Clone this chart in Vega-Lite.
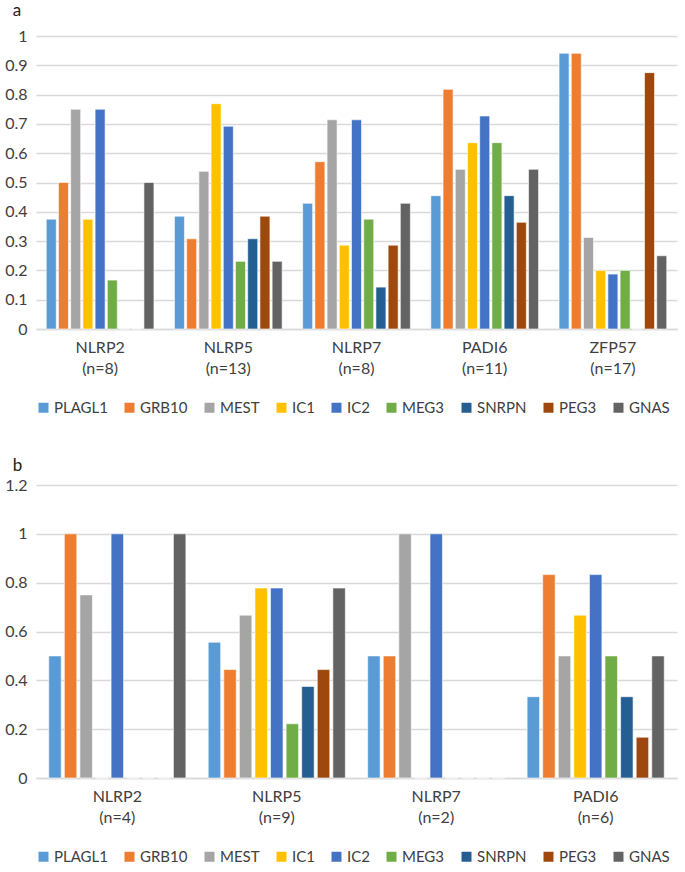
{
  "$schema": "https://vega.github.io/schema/vega-lite/v6.json",
  "background": "white",
  "padding": {"left": 4, "top": 2, "right": 5, "bottom": 5},
  "config": {
    "font": "Lato",
    "view": {"stroke": null},
    "axis": {"labelFont": "Lato", "labelFontSize": 16, "labelColor": "#404040", "titleFont": "Lato"},
    "legend": {"labelFont": "Lato", "labelFontSize": 15, "labelColor": "#404040"},
    "title": {"font": "Lato", "fontSize": 17, "fontWeight": "normal", "color": "#222222"}
  },
  "datasets": {
    "a": [
      {"g": "NLRP2 (n=8)", "s": "PLAGL1", "v": 0.375},
      {"g": "NLRP2 (n=8)", "s": "GRB10", "v": 0.5},
      {"g": "NLRP2 (n=8)", "s": "MEST", "v": 0.75},
      {"g": "NLRP2 (n=8)", "s": "IC1", "v": 0.375},
      {"g": "NLRP2 (n=8)", "s": "IC2", "v": 0.75},
      {"g": "NLRP2 (n=8)", "s": "MEG3", "v": 0.167},
      {"g": "NLRP2 (n=8)", "s": "SNRPN", "v": 0},
      {"g": "NLRP2 (n=8)", "s": "PEG3", "v": 0},
      {"g": "NLRP2 (n=8)", "s": "GNAS", "v": 0.5},
      {"g": "NLRP5 (n=13)", "s": "PLAGL1", "v": 0.385},
      {"g": "NLRP5 (n=13)", "s": "GRB10", "v": 0.308},
      {"g": "NLRP5 (n=13)", "s": "MEST", "v": 0.538},
      {"g": "NLRP5 (n=13)", "s": "IC1", "v": 0.769},
      {"g": "NLRP5 (n=13)", "s": "IC2", "v": 0.692},
      {"g": "NLRP5 (n=13)", "s": "MEG3", "v": 0.231},
      {"g": "NLRP5 (n=13)", "s": "SNRPN", "v": 0.308},
      {"g": "NLRP5 (n=13)", "s": "PEG3", "v": 0.385},
      {"g": "NLRP5 (n=13)", "s": "GNAS", "v": 0.231},
      {"g": "NLRP7 (n=8)", "s": "PLAGL1", "v": 0.429},
      {"g": "NLRP7 (n=8)", "s": "GRB10", "v": 0.571},
      {"g": "NLRP7 (n=8)", "s": "MEST", "v": 0.714},
      {"g": "NLRP7 (n=8)", "s": "IC1", "v": 0.286},
      {"g": "NLRP7 (n=8)", "s": "IC2", "v": 0.714},
      {"g": "NLRP7 (n=8)", "s": "MEG3", "v": 0.375},
      {"g": "NLRP7 (n=8)", "s": "SNRPN", "v": 0.143},
      {"g": "NLRP7 (n=8)", "s": "PEG3", "v": 0.286},
      {"g": "NLRP7 (n=8)", "s": "GNAS", "v": 0.429},
      {"g": "PADI6 (n=11)", "s": "PLAGL1", "v": 0.455},
      {"g": "PADI6 (n=11)", "s": "GRB10", "v": 0.818},
      {"g": "PADI6 (n=11)", "s": "MEST", "v": 0.545},
      {"g": "PADI6 (n=11)", "s": "IC1", "v": 0.636},
      {"g": "PADI6 (n=11)", "s": "IC2", "v": 0.727},
      {"g": "PADI6 (n=11)", "s": "MEG3", "v": 0.636},
      {"g": "PADI6 (n=11)", "s": "SNRPN", "v": 0.455},
      {"g": "PADI6 (n=11)", "s": "PEG3", "v": 0.364},
      {"g": "PADI6 (n=11)", "s": "GNAS", "v": 0.545},
      {"g": "ZFP57 (n=17)", "s": "PLAGL1", "v": 0.941},
      {"g": "ZFP57 (n=17)", "s": "GRB10", "v": 0.941},
      {"g": "ZFP57 (n=17)", "s": "MEST", "v": 0.3125},
      {"g": "ZFP57 (n=17)", "s": "IC1", "v": 0.2},
      {"g": "ZFP57 (n=17)", "s": "IC2", "v": 0.1875},
      {"g": "ZFP57 (n=17)", "s": "MEG3", "v": 0.2},
      {"g": "ZFP57 (n=17)", "s": "SNRPN", "v": 0},
      {"g": "ZFP57 (n=17)", "s": "PEG3", "v": 0.875},
      {"g": "ZFP57 (n=17)", "s": "GNAS", "v": 0.25}
    ],
    "b": [
      {"g": "NLRP2 (n=4)", "s": "PLAGL1", "v": 0.5},
      {"g": "NLRP2 (n=4)", "s": "GRB10", "v": 1},
      {"g": "NLRP2 (n=4)", "s": "MEST", "v": 0.75},
      {"g": "NLRP2 (n=4)", "s": "IC1", "v": 0},
      {"g": "NLRP2 (n=4)", "s": "IC2", "v": 1},
      {"g": "NLRP2 (n=4)", "s": "MEG3", "v": 0},
      {"g": "NLRP2 (n=4)", "s": "SNRPN", "v": 0},
      {"g": "NLRP2 (n=4)", "s": "PEG3", "v": 0},
      {"g": "NLRP2 (n=4)", "s": "GNAS", "v": 1},
      {"g": "NLRP5 (n=9)", "s": "PLAGL1", "v": 0.556},
      {"g": "NLRP5 (n=9)", "s": "GRB10", "v": 0.444},
      {"g": "NLRP5 (n=9)", "s": "MEST", "v": 0.667},
      {"g": "NLRP5 (n=9)", "s": "IC1", "v": 0.778},
      {"g": "NLRP5 (n=9)", "s": "IC2", "v": 0.778},
      {"g": "NLRP5 (n=9)", "s": "MEG3", "v": 0.222},
      {"g": "NLRP5 (n=9)", "s": "SNRPN", "v": 0.375},
      {"g": "NLRP5 (n=9)", "s": "PEG3", "v": 0.444},
      {"g": "NLRP5 (n=9)", "s": "GNAS", "v": 0.778},
      {"g": "NLRP7 (n=2)", "s": "PLAGL1", "v": 0.5},
      {"g": "NLRP7 (n=2)", "s": "GRB10", "v": 0.5},
      {"g": "NLRP7 (n=2)", "s": "MEST", "v": 1},
      {"g": "NLRP7 (n=2)", "s": "IC1", "v": 0},
      {"g": "NLRP7 (n=2)", "s": "IC2", "v": 1},
      {"g": "NLRP7 (n=2)", "s": "MEG3", "v": 0},
      {"g": "NLRP7 (n=2)", "s": "SNRPN", "v": 0},
      {"g": "NLRP7 (n=2)", "s": "PEG3", "v": 0},
      {"g": "NLRP7 (n=2)", "s": "GNAS", "v": 0},
      {"g": "PADI6 (n=6)", "s": "PLAGL1", "v": 0.333},
      {"g": "PADI6 (n=6)", "s": "GRB10", "v": 0.833},
      {"g": "PADI6 (n=6)", "s": "MEST", "v": 0.5},
      {"g": "PADI6 (n=6)", "s": "IC1", "v": 0.667},
      {"g": "PADI6 (n=6)", "s": "IC2", "v": 0.833},
      {"g": "PADI6 (n=6)", "s": "MEG3", "v": 0.5},
      {"g": "PADI6 (n=6)", "s": "SNRPN", "v": 0.333},
      {"g": "PADI6 (n=6)", "s": "PEG3", "v": 0.167},
      {"g": "PADI6 (n=6)", "s": "GNAS", "v": 0.5}
    ]
  },
  "resolve": {"legend": {"color": "independent"}, "scale": {"x": "independent", "y": "independent", "xOffset": "independent"}},
  "spacing": 41,
  "vconcat": [
    {
      "title": {"text": "a", "anchor": "start", "frame": "bounds", "offset": 8, "dx": 8},
      "data": {"name": "a"},
      "width": 641,
      "height": 293,
      "mark": {"type": "bar", "stroke": "white", "strokeWidth": 0.6},
      "encoding": {
        "x": {"field": "g", "type": "nominal", "sort": null, "title": null,
              "scale": {"paddingInner": 0.16, "paddingOuter": 0.08},
              "axis": {"labelAngle": 0, "ticks": false, "domainColor": "#D9D9D9", "domainWidth": 1.5, "labelPadding": 10, "labelExpr": "split(datum.label, ' ')", "labelLineHeight": 21}},
        "xOffset": {"field": "s", "type": "nominal", "sort": ["PLAGL1","GRB10","MEST","IC1","IC2","MEG3","SNRPN","PEG3","GNAS"], "scale": {"paddingInner": 0.18, "paddingOuter": 0}},
        "y": {"field": "v", "type": "quantitative", "title": null,
              "scale": {"domain": [0, 1], "nice": false},
              "axis": {"values": [0,0.1,0.2,0.3,0.4,0.5,0.6,0.7,0.8,0.9,1], "format": "~g", "domain": false, "ticks": false, "gridColor": "#D9D9D9", "gridWidth": 1.5, "labelPadding": 9}},
        "color": {"field": "s", "type": "nominal", "sort": ["PLAGL1","GRB10","MEST","IC1","IC2","MEG3","SNRPN","PEG3","GNAS"],
                  "scale": {"domain": ["PLAGL1","GRB10","MEST","IC1","IC2","MEG3","SNRPN","PEG3","GNAS"], "range": ["#5B9BD5","#ED7D31","#A5A5A5","#FFC000","#4472C4","#70AD47","#255E91","#9E480E","#636363"]},
                  "legend": {"orient": "bottom", "direction": "horizontal", "columns": 9, "title": null, "symbolType": "square", "symbolSize": 100, "symbolStrokeWidth": 0, "columnPadding": 14, "labelOffset": 3, "offset": 24}}
      }
    },
    {
      "title": {"text": "b", "anchor": "start", "frame": "bounds", "offset": 2, "dx": 8},
      "data": {"name": "b"},
      "width": 641,
      "height": 293,
      "mark": {"type": "bar", "stroke": "white", "strokeWidth": 0.6},
      "encoding": {
        "x": {"field": "g", "type": "nominal", "sort": null, "title": null,
              "scale": {"paddingInner": 0.14, "paddingOuter": 0.08},
              "axis": {"labelAngle": 0, "ticks": false, "domainColor": "#D9D9D9", "domainWidth": 1.5, "labelPadding": 10, "labelExpr": "split(datum.label, ' ')", "labelLineHeight": 21}},
        "xOffset": {"field": "s", "type": "nominal", "sort": ["PLAGL1","GRB10","MEST","IC1","IC2","MEG3","SNRPN","PEG3","GNAS"], "scale": {"paddingInner": 0.2, "paddingOuter": 0}},
        "y": {"field": "v", "type": "quantitative", "title": null,
              "scale": {"domain": [0, 1.2], "nice": false},
              "axis": {"values": [0,0.2,0.4,0.6,0.8,1,1.2], "format": "~g", "domain": false, "ticks": false, "gridColor": "#D9D9D9", "gridWidth": 1.5, "labelPadding": 9}},
        "color": {"field": "s", "type": "nominal", "sort": ["PLAGL1","GRB10","MEST","IC1","IC2","MEG3","SNRPN","PEG3","GNAS"],
                  "scale": {"domain": ["PLAGL1","GRB10","MEST","IC1","IC2","MEG3","SNRPN","PEG3","GNAS"], "range": ["#5B9BD5","#ED7D31","#A5A5A5","#FFC000","#4472C4","#70AD47","#255E91","#9E480E","#636363"]},
                  "legend": {"orient": "bottom", "direction": "horizontal", "columns": 9, "title": null, "symbolType": "square", "symbolSize": 100, "symbolStrokeWidth": 0, "columnPadding": 14, "labelOffset": 3, "offset": 24}}
      }
    }
  ]
}
